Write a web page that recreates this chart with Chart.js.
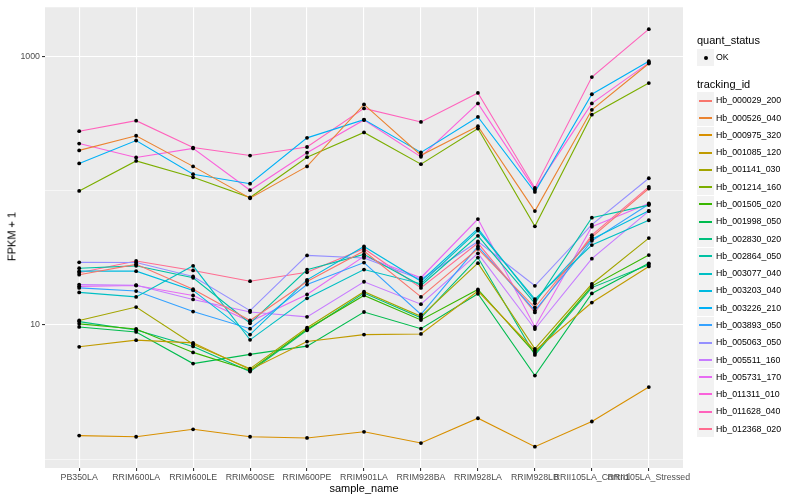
<!DOCTYPE html>
<html>
<head>
<meta charset="utf-8">
<script src="https://cdn.jsdelivr.net/npm/chart.js@4.4.0/dist/chart.umd.min.js"></script>
<style>
  body { margin: 0; background: #fff; }
  #wrap { position: relative; width: 800px; height: 500px; font-family: "Liberation Sans", Arial, sans-serif; }
  .lbl { position: absolute; white-space: nowrap; line-height: 1; color: #000; }
</style>
</head>
<body>
<div id="wrap">
  <canvas id="c" width="800" height="500"></canvas>
  <div id="legend"></div>
</div>
<script>
// sample names on the x axis
var samples = ['PB350LA', 'RRIM600LA', 'RRIM600LE', 'RRIM600SE', 'RRIM600PE', 'RRIM901LA',
  'RRIM928BA', 'RRIM928LA', 'RRIM928LB', 'RRII105LA_Control', 'RRII105LA_Stressed'];

// y axis (log) : labelled breaks and unlabelled minor breaks
var yLabels = [10, 1000];
var yGrid = [1, 10, 100, 1000];

var trackingIds = ['Hb_000029_200', 'Hb_000526_040', 'Hb_000975_320', 'Hb_001085_120', 'Hb_001141_030',
  'Hb_001214_160', 'Hb_001505_020', 'Hb_001998_050', 'Hb_002830_020', 'Hb_002864_050',
  'Hb_003077_040', 'Hb_003203_040', 'Hb_003226_210', 'Hb_003893_050', 'Hb_005063_050',
  'Hb_005511_160', 'Hb_005731_170', 'Hb_011311_010', 'Hb_011628_040', 'Hb_012368_020'];

var colors = ['#F8766D', '#EA8331', '#D89000', '#C09B00', '#A3A500', '#7CAE00', '#39B600', '#00BB4E',
  '#00BF7D', '#00C1A3', '#00BFC4', '#00BAE0', '#00B0F6', '#35A2FF', '#9590FF', '#C77CFF',
  '#E76BF3', '#FA62DB', '#FF62BC', '#FF6C90'];

// FPKM + 1 per sample (same order as samples)
var hb_000029_200 = [23.7, 28.3, 18.5, 10.8, 21.1, 35.6, 16.2, 37.0, 13.5, 45.1, 104];
var hb_000526_040 = [200, 257, 152, 88.0, 152, 440, 184, 303, 70.6, 401, 888];
var hb_000975_320 = [1.50, 1.47, 1.67, 1.47, 1.44, 1.60, 1.32, 2.02, 1.24, 1.91, 3.45];
var hb_001085_120 = [6.88, 7.71, 7.36, 4.65, 7.53, 8.48, 8.58, 17.9, 6.43, 14.7, 27.3];
var hb_001141_030 = [10.8, 13.6, 7.20, 4.73, 9.55, 17.7, 11.6, 28.9, 6.65, 20.2, 44.4];
var hb_001214_160 = [99.7, 167, 126, 89.1, 178, 272, 158, 291, 54.4, 369, 635];
var hb_001505_020 = [10.2, 9.34, 6.25, 4.58, 9.30, 16.6, 10.9, 18.4, 6.18, 19.5, 33.2];
var hb_001998_050 = [9.67, 8.88, 5.16, 6.04, 6.96, 12.5, 9.39, 17.1, 4.20, 17.2, 28.8];
var hb_002830_020 = [10.6, 9.19, 6.92, 4.50, 9.14, 17.3, 11.3, 31.8, 5.98, 19.0, 28.1];
var hb_002864_050 = [26.5, 27.6, 22.5, 10.3, 25.8, 33.6, 19.7, 46.2, 14.5, 63.0, 78.2];
var hb_003077_040 = [17.5, 16.2, 27.6, 7.75, 15.8, 25.9, 20.3, 50.5, 15.6, 39.4, 60.3];
var hb_003203_040 = [25.2, 25.2, 18.1, 8.48, 21.7, 38.5, 21.2, 52.3, 15.1, 43.6, 70.9];
var hb_003226_210 = [160, 237, 133, 113, 248, 339, 193, 355, 98.0, 524, 923];
var hb_003893_050 = [18.9, 17.9, 12.6, 9.39, 20.0, 29.2, 12.0, 38.5, 12.8, 42.4, 79.5];
var hb_005063_050 = [29.3, 29.2, 23.0, 12.8, 33.0, 31.6, 21.9, 41.9, 19.6, 55.9, 124];
var hb_005511_160 = [20.0, 19.8, 15.5, 12.5, 11.5, 21.0, 14.3, 34.2, 9.34, 31.2, 70.5];
var hb_005731_170 = [19.4, 19.7, 16.6, 10.6, 16.9, 32.5, 22.5, 61.6, 9.67, 54.0, 80.4];
var hb_011311_010 = [225, 177, 207, 101, 192, 337, 179, 448, 102, 448, 898];
var hb_011628_040 = [278, 333, 210, 183, 212, 411, 326, 536, 105, 704, 1601];
var hb_012368_020 = [24.5, 30.0, 25.5, 21.2, 24.7, 37.0, 18.9, 40.8, 12.4, 46.7, 107];

var seriesValues = [hb_000029_200, hb_000526_040, hb_000975_320, hb_001085_120, hb_001141_030,
  hb_001214_160, hb_001505_020, hb_001998_050, hb_002830_020, hb_002864_050,
  hb_003077_040, hb_003203_040, hb_003226_210, hb_003893_050, hb_005063_050,
  hb_005511_160, hb_005731_170, hb_011311_010, hb_011628_040, hb_012368_020];

var fontFam = '"Liberation Sans", Arial, sans-serif';
var tickFont = { family: fontFam, size: 8.8 };

function to_points(vals) {
  return vals.map(function(v, j) { return { x: j, y: v }; });
}

var datasets = [];
seriesValues.forEach(function(vals, i) {
  datasets.push({
    label: trackingIds[i],
    data: to_points(vals),
    borderColor: colors[i],
    borderWidth: 1.1,
    pointRadius: 0,
    fill: false,
    tension: 0,
    order: 2
  });
});
seriesValues.forEach(function(vals, i) {
  datasets.push({
    label: trackingIds[i] + ' pts',
    data: to_points(vals),
    showLine: false,
    pointRadius: 1.9,
    pointBackgroundColor: '#000',
    pointBorderColor: '#000',
    pointBorderWidth: 0,
    order: 1
  });
});

var panelBg = {
  id: 'panelBg',
  beforeDraw: function(chart) {
    var a = chart.chartArea, ctx = chart.ctx;
    ctx.save();
    ctx.fillStyle = '#EBEBEB';
    ctx.fillRect(a.left, a.top, a.right - a.left, a.bottom - a.top);
    ctx.restore();
  }
};

function is_major(c) {
  return c.tick && yLabels.indexOf(c.tick.value) >= 0;
}

new Chart(document.getElementById('c'), {
  type: 'line',
  data: { datasets: datasets },
  plugins: [panelBg],
  options: {
    responsive: false,
    animation: false,
    events: [],
    layout: { padding: { left: 0, top: 5, right: 117, bottom: 0 } },
    plugins: { legend: { display: false }, tooltip: { enabled: false } },
    scales: {
      x: {
        type: 'linear',
        min: -0.6,
        max: 10.6,
        afterBuildTicks: function(s) { s.ticks = samples.map(function(_, i) { return { value: i }; }); },
        afterFit: function(s) { s.height = 32; },
        border: { display: false },
        grid: { color: '#FFFFFF', lineWidth: 1.1, tickColor: '#333333', tickLength: 3 },
        ticks: {
          autoSkip: false, maxRotation: 0, minRotation: 0, padding: 1,
          color: '#4D4D4D', font: tickFont,
          callback: function(v) { return samples[v]; }
        }
      },
      y: {
        type: 'logarithmic',
        min: 0.86,
        max: 2330,
        afterBuildTicks: function(s) { s.ticks = yGrid.map(function(v) { return { value: v }; }); },
        afterFit: function(s) { s.width = 45; },
        border: { display: false },
        grid: {
          color: '#FFFFFF',
          lineWidth: function(c) { return is_major(c) ? 1.1 : 0.55; },
          tickColor: function(c) { return is_major(c) ? '#333333' : 'rgba(0,0,0,0)'; },
          tickLength: 3
        },
        ticks: {
          padding: 2, color: '#4D4D4D', font: tickFont,
          callback: function(v) { return yLabels.indexOf(v) >= 0 ? String(v) : ''; }
        }
      }
    }
  }
});

// axis titles and legend as html text
var wrap = document.getElementById('legend');
function add_text(txt, left, cy, size) {
  var d = document.createElement('div');
  d.className = 'lbl';
  d.textContent = txt;
  d.style.left = left + 'px';
  d.style.top = (cy - size / 2) + 'px';
  d.style.fontSize = size + 'px';
  wrap.appendChild(d);
  return d;
}
function add_box(left, top, w, h, bg, radius) {
  var d = document.createElement('div');
  d.style.position = 'absolute';
  d.style.left = left + 'px';
  d.style.top = top + 'px';
  d.style.width = w + 'px';
  d.style.height = h + 'px';
  d.style.background = bg;
  if (radius) d.style.borderRadius = radius;
  wrap.appendChild(d);
}

var xt = add_text('sample_name', 364, 488, 11);
xt.style.transform = 'translateX(-50%)';
var yt = add_text('FPKM + 1', 12, 236.5, 11);
yt.style.transform = 'translate(-50%, 0) rotate(-90deg)';

add_text('quant_status', 697, 40.7, 11);
add_box(697, 49, 17, 17, '#F2F2F2');
add_box(704, 56, 4, 4, '#000', '50%');
add_text('OK', 716, 57.3, 8.8);

add_text('tracking_id', 697, 84.3, 11);
trackingIds.forEach(function(id, i) {
  var cy = 100.7 + 17.28 * i;
  add_box(697, Math.round(cy - 8.64), 17, 17, '#F2F2F2');
  add_box(699, Math.round(cy) - 1, 13, 2, colors[i]);
  add_text(id, 716, cy, 8.8);
});
</script>
</body>
</html>
